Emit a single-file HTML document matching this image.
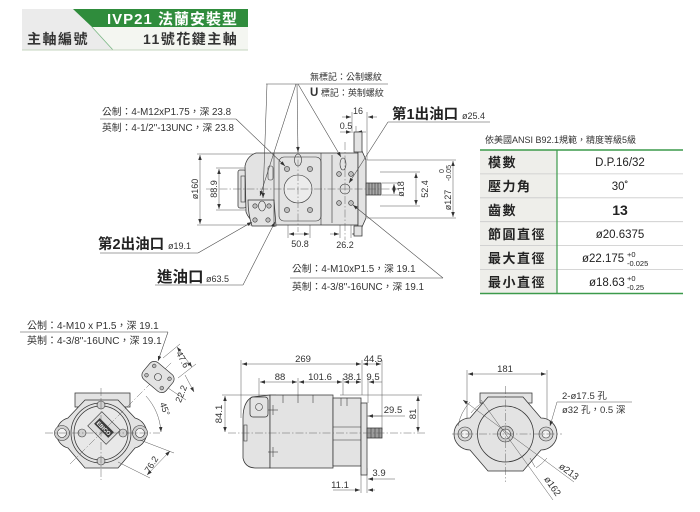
<!DOCTYPE html>
<html><head><meta charset="utf-8">
<style>
html,body{margin:0;padding:0;background:#fff;}
svg{display:block;font-family:"Liberation Sans","Noto Sans CJK TC",sans-serif;}
</style></head><body>
<svg width="700" height="512" viewBox="0 0 700 512" xmlns="http://www.w3.org/2000/svg">
<defs>
<marker id="a" viewBox="0 0 6 6" refX="6" refY="3" markerWidth="5" markerHeight="5" orient="auto-start-reverse" markerUnits="userSpaceOnUse"><path d="M0,0.9 L6,3 L0,5.1 Z" fill="#333"/></marker>
</defs>

<!-- HEADER -->
<rect x="22" y="9" width="226" height="41" fill="#ebebeb"/>
<polygon points="92,27 248,27 248,50 113,50" fill="#f4f6f1"/>
<polygon points="73,9 248,9 248,27 92,27" fill="#2f8c3c"/>
<line x1="92" y1="27" x2="113" y2="50" stroke="#7ab884" stroke-width="0.8"/>
<line x1="22" y1="50" x2="248" y2="50" stroke="#c5d6bf" stroke-width="1"/>
<text x="107" y="24" fill="#fff" font-size="15" font-weight="bold" letter-spacing="1">IVP21 法蘭安裝型</text>
<text x="27" y="44" font-size="14" font-weight="bold" fill="#333" letter-spacing="1.5">主軸編號</text>
<text x="143" y="44" font-size="14" font-weight="bold" fill="#333" letter-spacing="1.5">11號花鍵主軸</text>

<!-- TABLE -->
<text x="485" y="143" font-size="9" fill="#333">依美國ANSI B92.1規範，精度等級5級</text>
<rect x="480" y="150" width="77" height="143.5" fill="#eeeeea"/>
<g stroke="#c9c9c9" stroke-width="0.8">
<line x1="480" y1="173.9" x2="683" y2="173.9"/>
<line x1="480" y1="197.8" x2="683" y2="197.8"/>
<line x1="480" y1="221.7" x2="683" y2="221.7"/>
<line x1="480" y1="245.6" x2="683" y2="245.6"/>
<line x1="480" y1="269.5" x2="683" y2="269.5"/>
</g>
<g stroke="#3c9a4b">
<line x1="480" y1="150" x2="683" y2="150" stroke-width="1.5"/>
<line x1="480" y1="293.5" x2="683" y2="293.5" stroke-width="1.5"/>
<line x1="557" y1="150" x2="557" y2="293.5" stroke-width="1.2"/>
</g>
<g font-size="13" fill="#222" font-weight="bold" letter-spacing="1.5">
<text x="488" y="167">模數</text>
<text x="488" y="191">壓力角</text>
<text x="488" y="215">齒數</text>
<text x="488" y="239">節圓直徑</text>
<text x="488" y="263">最大直徑</text>
<text x="488" y="287">最小直徑</text>
</g>
<g font-size="11.5" fill="#222" text-anchor="middle">
<text x="620" y="166">D.P.16/32</text>
<text x="620" y="190">30˚</text>
<text x="620" y="215" font-size="14" font-weight="bold">13</text>
<text x="620" y="238">ø20.6375</text>
</g>
<g font-size="11.5" fill="#222">
<text x="582" y="262">ø22.175</text>
<text x="627" y="257" font-size="7.5">+0</text>
<text x="627" y="266" font-size="7.5">-0.025</text>
<text x="589" y="286">ø18.63</text>
<text x="627" y="281" font-size="7.5">+0</text>
<text x="627" y="290" font-size="7.5">-0.25</text>
</g>

<!-- TOP VIEW -->
<g stroke="#555" stroke-width="0.5" fill="none">
<line x1="197" y1="154" x2="256" y2="154"/>
<line x1="197" y1="225" x2="262" y2="225"/>
<line x1="216" y1="168" x2="246" y2="168"/>
<line x1="216" y1="210" x2="246" y2="210"/>
<line x1="200" y1="155" x2="200" y2="224" marker-start="url(#a)" marker-end="url(#a)"/>
<line x1="219" y1="169" x2="219" y2="209" marker-start="url(#a)" marker-end="url(#a)"/>
<line x1="288" y1="214" x2="288" y2="238"/>
<line x1="310" y1="214" x2="310" y2="238"/>
<line x1="289" y1="234" x2="309" y2="234" marker-start="url(#a)" marker-end="url(#a)"/>
<line x1="340" y1="206" x2="340" y2="238"/>
<line x1="351" y1="206" x2="351" y2="238"/>
<line x1="330" y1="234" x2="339" y2="234" marker-end="url(#a)"/>
<line x1="361" y1="234" x2="352" y2="234" marker-end="url(#a)"/>
<line x1="352" y1="112" x2="352" y2="133"/>
<line x1="367" y1="112" x2="367" y2="160"/>
<line x1="342" y1="117" x2="351" y2="117" marker-end="url(#a)"/>
<line x1="377" y1="117" x2="368" y2="117" marker-end="url(#a)"/>
<line x1="356" y1="126" x2="356" y2="133"/>
<line x1="340" y1="132" x2="351" y2="132" marker-end="url(#a)"/>
<line x1="366" y1="132" x2="357" y2="132" marker-end="url(#a)"/>
<line x1="382" y1="183" x2="400" y2="183"/>
<line x1="382" y1="195" x2="400" y2="195"/>
<line x1="394" y1="184" x2="394" y2="194" marker-start="url(#a)" marker-end="url(#a)"/>
<line x1="380" y1="172" x2="420" y2="172"/>
<line x1="380" y1="206" x2="420" y2="206"/>
<line x1="416" y1="173" x2="416" y2="205" marker-start="url(#a)" marker-end="url(#a)"/>
<line x1="367" y1="160" x2="456" y2="160"/>
<line x1="367" y1="218" x2="456" y2="218"/>
<line x1="453" y1="161" x2="453" y2="217" marker-start="url(#a)" marker-end="url(#a)"/>
</g>
<g stroke="#333" stroke-width="0.75" fill="#e3e3e3">
<rect x="238" y="170" width="8" height="38" rx="2"/>
<path d="M256,153 L358,153 L358,225 L262,225 Q250,223 246,212 L245,166 Q247,156 256,153 Z"/>
<path d="M248,200 L274,200 L276,226 L252,226 Q248,214 248,200 Z"/>
<path d="M358,151 L362,151 L366,160 L366,218 L362,227 L358,227 Z"/>
<rect x="354" y="132" width="8" height="20"/>
<rect x="354" y="226" width="8" height="10"/>
<rect x="366" y="183" width="15" height="12" fill="#a8a8a8"/>
</g>
<g stroke="#333" stroke-width="0.6" fill="none">
<line x1="274" y1="153" x2="274" y2="225"/>
<rect x="279" y="157" width="42" height="64" rx="5"/>
<line x1="321" y1="153" x2="321" y2="225"/>
<line x1="332" y1="155" x2="332" y2="223"/>
<circle cx="298" cy="189" r="14" fill="#ececec"/>
<ellipse cx="298" cy="160" rx="3.5" ry="6"/>
<ellipse cx="343" cy="164" rx="3" ry="6"/>
<circle cx="345" cy="189" r="5"/>
<ellipse cx="262" cy="206" rx="3.5" ry="5"/>
<rect x="268" y="166" width="5" height="14" rx="2"/>
<rect x="241" y="176" width="4" height="26"/>
<line x1="369" y1="183" x2="369" y2="195"/><line x1="372" y1="183" x2="372" y2="195"/><line x1="375" y1="183" x2="375" y2="195"/><line x1="378" y1="183" x2="378" y2="195"/>
</g>
<g stroke="#333" stroke-width="0.6" fill="#bdbdbd">
<circle cx="287" cy="169" r="2.6"/><circle cx="310" cy="169" r="2.6"/>
<circle cx="287" cy="210" r="2.6"/><circle cx="310" cy="210" r="2.6"/>
<circle cx="339" cy="174" r="2.4"/><circle cx="351" cy="174" r="2.4"/>
<circle cx="339" cy="203" r="2.4"/><circle cx="351" cy="203" r="2.4"/>
<circle cx="255" cy="206" r="2.2"/><circle cx="269" cy="206" r="2.2"/>
<circle cx="255" cy="220" r="2.2"/><circle cx="268" cy="220" r="2.2"/>
</g>
<g stroke="#555" stroke-width="0.45" fill="none" stroke-dasharray="8 2 1.5 2">
<line x1="206" y1="189" x2="398" y2="189"/>
<line x1="298" y1="146" x2="298" y2="232"/>
<line x1="345" y1="142" x2="345" y2="240"/>
</g>
<g stroke="#444" stroke-width="0.55" fill="none">
<line x1="266" y1="84" x2="388" y2="84"/>
<line x1="267" y1="84" x2="263" y2="198" marker-end="url(#a)"/>
<line x1="296" y1="84" x2="260" y2="196" marker-end="url(#a)"/>
<line x1="297" y1="84" x2="298" y2="152" marker-end="url(#a)"/>
<line x1="298" y1="84" x2="341" y2="157" marker-end="url(#a)"/>
<line x1="100" y1="119" x2="236" y2="119"/>
<line x1="236" y1="119" x2="285" y2="166" marker-end="url(#a)"/>
<line x1="388" y1="122" x2="490" y2="122"/>
<line x1="388" y1="122" x2="349" y2="183" marker-end="url(#a)"/>
<line x1="100" y1="253" x2="198" y2="253"/>
<line x1="198" y1="253" x2="252" y2="222" marker-end="url(#a)"/>
<line x1="155" y1="285" x2="243" y2="285"/>
<line x1="243" y1="285" x2="275" y2="222" marker-end="url(#a)"/>
<line x1="290" y1="278" x2="443" y2="278"/>
<line x1="443" y1="278" x2="353" y2="205" marker-end="url(#a)"/>
</g>
<g fill="#333" font-size="9">
<text x="310" y="80">無標記：公制螺紋</text>
<text x="310" y="96"><tspan font-size="11.5" font-weight="bold">U</tspan> 標記：英制螺紋</text>
<text x="102" y="115" font-size="9.8">公制：4-M12xP1.75，深 23.8</text>
<text x="102" y="131" font-size="9.8">英制：4-1/2"-13UNC，深 23.8</text>
<text x="292" y="272" font-size="9.8">公制：4-M10xP1.5，深 19.1</text>
<text x="292" y="290" font-size="9.8">英制：4-3/8"-16UNC，深 19.1</text>
<text x="358" y="114" text-anchor="middle">16</text>
<text x="346" y="129" text-anchor="middle">0.5</text>
<text x="300" y="247" text-anchor="middle">50.8</text>
<text x="345" y="248" text-anchor="middle">26.2</text>
<text transform="translate(198,189) rotate(-90)" text-anchor="middle">ø160</text>
<text transform="translate(217,189) rotate(-90)" text-anchor="middle">88.9</text>
<text transform="translate(404,189) rotate(-90)" text-anchor="middle">ø18</text>
<text transform="translate(428,189) rotate(-90)" text-anchor="middle">52.4</text>
<text transform="translate(451,200) rotate(-90)" text-anchor="middle">ø127</text>
<text transform="translate(444,171) rotate(-90)" text-anchor="middle" font-size="7">0</text>
<text transform="translate(451,173) rotate(-90)" text-anchor="middle" font-size="7">-0.05</text>
</g>
<g fill="#222" font-weight="bold" font-size="14.5">
<text x="392" y="119">第1出油口</text>
<text x="98" y="249">第2出油口</text>
<text x="157" y="282" font-size="15.5">進油口</text>
</g>
<g fill="#333" font-size="9">
<text x="462" y="119">ø25.4</text>
<text x="168" y="249">ø19.1</text>
<text x="206" y="282">ø63.5</text>
</g>

<!-- BOTTOM LEFT VIEW -->
<g fill="#333" font-size="10">
<text x="27" y="329">公制：4-M10 x P1.5，深 19.1</text>
<text x="27" y="344">英制：4-3/8"-16UNC，深 19.1</text>
</g>
<g stroke="#444" stroke-width="0.55" fill="none">
<line x1="20" y1="332" x2="168" y2="332"/>
<line x1="168" y1="332" x2="158" y2="361" marker-end="url(#a)"/>
</g>
<g stroke="#333" stroke-width="0.75" fill="#e3e3e3">
<rect x="75" y="393" width="55" height="14"/>
<path d="M68,418 L85,400 L118,400 L135,418 A15.5,15.5 0 0 1 135,448 L118,468 L85,468 L68,448 A15.5,15.5 0 0 1 68,418 Z"/>
<circle cx="101" cy="433" r="30"/>
<circle cx="101" cy="433" r="27" fill="#e8e8e8"/>
</g>
<g stroke="#333" stroke-width="0.6" fill="#d0d0d0">
<circle cx="62" cy="433" r="7.5"/><circle cx="62" cy="433" r="4.5" fill="#f2f2f2"/>
<circle cx="140" cy="433" r="7.5"/><circle cx="140" cy="433" r="4.5" fill="#f2f2f2"/>
<circle cx="101" cy="405" r="4"/><circle cx="101" cy="461" r="4"/>
<circle cx="82" cy="433" r="4"/><circle cx="123" cy="433" r="4"/>
</g>
<g transform="translate(104,428) rotate(45)">
<rect x="-13" y="-10" width="26" height="20" fill="#dcdcdc" stroke="#333" stroke-width="0.6"/>
<rect x="-10" y="-4" width="20" height="8" fill="#3a3a3a"/>
<text x="0" y="2.3" fill="#fff" font-size="5.5" font-weight="bold" text-anchor="middle">EBICO</text>
</g>
<g stroke="#555" stroke-width="0.45" fill="none" stroke-dasharray="8 2 1.5 2">
<line x1="45" y1="433" x2="160" y2="433"/>
<line x1="101" y1="388" x2="101" y2="480"/>
<line x1="70" y1="464" x2="172" y2="362"/>
</g>
<g transform="translate(158,377) rotate(40)">
<rect x="-15" y="-11" width="30" height="22" rx="6" fill="#e3e3e3" stroke="#333" stroke-width="0.7"/>
<circle cx="0" cy="0" r="3.5" fill="none" stroke="#333" stroke-width="0.6"/>
<circle cx="-10" cy="-6" r="1.8" fill="#bbb" stroke="#333" stroke-width="0.5"/>
<circle cx="10" cy="-6" r="1.8" fill="#bbb" stroke="#333" stroke-width="0.5"/>
<circle cx="-10" cy="6" r="1.8" fill="#bbb" stroke="#333" stroke-width="0.5"/>
<circle cx="10" cy="6" r="1.8" fill="#bbb" stroke="#333" stroke-width="0.5"/>
</g>
<g stroke="#555" stroke-width="0.5" fill="none">
<line x1="163" y1="358" x2="180" y2="344"/>
<line x1="178" y1="378" x2="196" y2="364"/>
<line x1="177" y1="347" x2="192" y2="367" marker-start="url(#a)" marker-end="url(#a)"/>
<line x1="168" y1="388" x2="186" y2="400"/>
<line x1="185" y1="375" x2="194" y2="392" marker-end="url(#a)"/>
<path d="M146,396 A60,60 0 0 1 161,432" marker-end="url(#a)"/>
<line x1="140" y1="440" x2="174" y2="453"/>
<line x1="118" y1="462" x2="150" y2="478"/>
<line x1="170" y1="451" x2="147" y2="475" marker-start="url(#a)" marker-end="url(#a)"/>
</g>
<g fill="#333" font-size="9">
<text transform="translate(180,361) rotate(62)" text-anchor="middle">47.6</text>
<text transform="translate(184,395) rotate(-68)" text-anchor="middle">22.2</text>
<text transform="translate(162,410) rotate(70)" text-anchor="middle">45°</text>
<text transform="translate(154,466) rotate(-58)" text-anchor="middle">76.2</text>
</g>

<!-- BOTTOM CENTER SIDE VIEW -->
<g stroke="#555" stroke-width="0.5" fill="none">
<line x1="241" y1="360" x2="241" y2="418"/>
<line x1="362" y1="360" x2="362" y2="395"/>
<line x1="382" y1="360" x2="382" y2="430"/>
<line x1="242" y1="364" x2="361" y2="364" marker-start="url(#a)" marker-end="url(#a)"/>
<line x1="363" y1="364" x2="381" y2="364" marker-start="url(#a)" marker-end="url(#a)"/>
<line x1="259" y1="378" x2="259" y2="400"/>
<line x1="298" y1="378" x2="298" y2="395"/>
<line x1="343" y1="378" x2="343" y2="395"/>
<line x1="368" y1="378" x2="368" y2="403"/>
<line x1="260" y1="382" x2="297" y2="382" marker-start="url(#a)" marker-end="url(#a)"/>
<line x1="299" y1="382" x2="342" y2="382" marker-start="url(#a)" marker-end="url(#a)"/>
<line x1="344" y1="382" x2="361" y2="382" marker-start="url(#a)" marker-end="url(#a)"/>
<line x1="382" y1="382" x2="369" y2="382" marker-end="url(#a)"/>
<line x1="222" y1="395" x2="276" y2="395"/>
<line x1="340" y1="395" x2="422" y2="395"/>
<line x1="225" y1="396" x2="225" y2="432" marker-start="url(#a)" marker-end="url(#a)"/>
<line x1="418" y1="396" x2="418" y2="432" marker-start="url(#a)" marker-end="url(#a)"/>
<line x1="367" y1="416" x2="405" y2="416"/>
<line x1="382" y1="416" x2="368" y2="416" marker-end="url(#a)"/>
<line x1="361" y1="468" x2="361" y2="493"/>
<line x1="367" y1="468" x2="367" y2="493"/>
<line x1="395" y1="479" x2="368" y2="479" marker-end="url(#a)"/>
<line x1="333" y1="490" x2="360" y2="490" marker-end="url(#a)"/>
<line x1="375" y1="490" x2="368" y2="490" marker-end="url(#a)"/>
</g>
<g stroke="#333" stroke-width="0.75" fill="#e3e3e3">
<path d="M270,395 L252,397 Q243,402 243,418 L243,458 Q245,468 256,468 L270,468 Z"/>
<rect x="270" y="395" width="63" height="73"/>
<rect x="333" y="398" width="28" height="68"/>
<rect x="361" y="403" width="6" height="72"/>
<rect x="367" y="428" width="15" height="10" fill="#9c9c9c"/>
<rect x="250" y="397" width="18" height="20" rx="3"/>
</g>
<g stroke="#333" stroke-width="0.55" fill="none">
<circle cx="259" cy="407" r="3.5"/>
<line x1="283" y1="395" x2="283" y2="403"/><line x1="298" y1="395" x2="298" y2="403"/><line x1="313" y1="395" x2="313" y2="403"/>
<line x1="341" y1="398" x2="341" y2="406"/><line x1="347" y1="398" x2="347" y2="406"/>
<line x1="333" y1="427" x2="361" y2="427"/><line x1="333" y1="440" x2="361" y2="440"/>
<line x1="268" y1="410" x2="278" y2="410"/><line x1="273" y1="405" x2="273" y2="415"/>
<line x1="268" y1="452" x2="278" y2="452"/><line x1="273" y1="447" x2="273" y2="457"/>
<rect x="244" y="425" width="3" height="16"/>
<line x1="371" y1="428" x2="371" y2="438"/><line x1="375" y1="428" x2="375" y2="438"/><line x1="379" y1="428" x2="379" y2="438"/>
</g>
<line x1="228" y1="433" x2="425" y2="433" stroke="#555" stroke-width="0.45" stroke-dasharray="8 2 1.5 2"/>
<g fill="#333" font-size="9.5">
<text x="303" y="362" text-anchor="middle">269</text>
<text x="373" y="362" text-anchor="middle">44.5</text>
<text x="280" y="380" text-anchor="middle">88</text>
<text x="320" y="380" text-anchor="middle">101.6</text>
<text x="352" y="380" text-anchor="middle">38.1</text>
<text x="373" y="380" text-anchor="middle">9.5</text>
<text transform="translate(222,414) rotate(-90)" text-anchor="middle">84.1</text>
<text transform="translate(416,414) rotate(-90)" text-anchor="middle">81</text>
<text x="393" y="413" text-anchor="middle">29.5</text>
<text x="379" y="476" text-anchor="middle">3.9</text>
<text x="340" y="488" text-anchor="middle">11.1</text>
</g>

<!-- BOTTOM RIGHT FRONT VIEW -->
<g stroke="#555" stroke-width="0.5" fill="none">
<line x1="467" y1="370" x2="467" y2="428"/>
<line x1="547" y1="370" x2="547" y2="428"/>
<line x1="468" y1="374" x2="546" y2="374" marker-start="url(#a)" marker-end="url(#a)"/>
</g>
<g stroke="#333" stroke-width="0.75" fill="#e3e3e3">
<rect x="480" y="393" width="52" height="10"/>
<path d="M470,418 L488,397 L523,397 L541,418 A16,16 0 0 1 541,450 L523,471 L488,471 L470,450 A16,16 0 0 1 470,418 Z"/>
<circle cx="505.5" cy="434" r="28"/>
</g>
<g stroke="#333" stroke-width="0.6" fill="#d5d5d5">
<circle cx="465" cy="434" r="7"/><circle cx="465" cy="434" r="4" fill="#f2f2f2"/>
<circle cx="546" cy="434" r="7"/><circle cx="546" cy="434" r="4" fill="#f2f2f2"/>
<circle cx="505.5" cy="434" r="8" fill="#cfcfcf"/>
<circle cx="505.5" cy="434" r="5" fill="#e8e8e8"/>
</g>
<g stroke="#555" stroke-width="0.45" fill="none" stroke-dasharray="8 2 1.5 2">
<line x1="452" y1="434" x2="562" y2="434"/>
<line x1="505.5" y1="386" x2="505.5" y2="482"/>
</g>
<g stroke="#555" stroke-width="0.5" fill="none">
<path d="M471,413 A40,40 0 0 1 484,402"/>
<path d="M458,426 A48,48 0 0 1 470,402"/>
<path d="M547,458 A48,48 0 0 1 536,468"/>
<line x1="463" y1="400" x2="574" y2="482" marker-start="url(#a)"/>
<line x1="481" y1="400" x2="553" y2="500"/>
<line x1="530" y1="458" x2="535" y2="467"/>
<line x1="557" y1="402" x2="632" y2="402"/>
<line x1="557" y1="402" x2="550" y2="426" marker-end="url(#a)"/>
</g>
<g fill="#333" font-size="9.5">
<text x="505" y="372" text-anchor="middle">181</text>
<text x="562" y="399">2-ø17.5 孔</text>
<text x="562" y="413">ø32 孔，0.5 深</text>
<text transform="translate(567,474) rotate(36)" text-anchor="middle">ø213</text>
<text transform="translate(550,488) rotate(55)" text-anchor="middle">ø162</text>
</g>
</svg>
</body></html>
